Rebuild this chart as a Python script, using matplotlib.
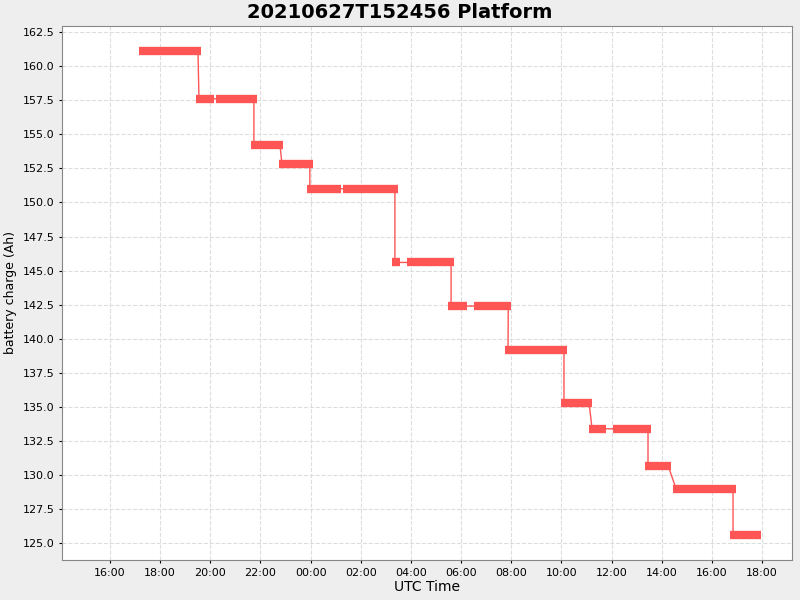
import matplotlib
matplotlib.use("Agg")
import matplotlib.pyplot as plt
import matplotlib.dates as mdates
import datetime as dt

# segments: start/end in hours after 2021-06-27 00:00 UTC, charge in Ah
seg_start = [17.16, 19.43, 20.23, 21.62, 22.74, 23.85, 25.29, 27.24, 27.84, 29.48, 30.51, 31.75, 33.98, 35.10, 36.06, 37.33, 38.45, 40.72]
seg_end = [19.63, 20.15, 21.86, 22.90, 24.09, 25.21, 27.48, 27.56, 29.72, 30.23, 32.00, 34.22, 35.22, 35.78, 37.57, 38.37, 40.96, 41.96]
seg_value = [161.1, 157.6, 157.6, 154.2, 152.8, 151.0, 151.0, 145.6, 145.6, 142.4, 142.4, 139.2, 135.3, 133.4, 133.4, 130.7, 129.0, 125.6]

base = dt.datetime(2021, 6, 27)
def t(h):
    return mdates.date2num(base + dt.timedelta(hours=h))

red = "#ff5555"
fig = plt.figure(figsize=(8, 6), dpi=100, facecolor="#eeeeee")
ax = fig.add_axes([0.0775, 0.0667, 0.9125, 0.89])
ax.set_facecolor("white")

# thin connecting line through marker centres
inset = 0.12
xs, ys = [], []
for s, e, v in zip(seg_start, seg_end, seg_value):
    xs += [t(s + inset), t(e - inset)]
    ys += [v, v]
ax.plot(xs, ys, color=red, lw=1, zorder=2)
for s, e, v in zip(seg_start, seg_end, seg_value):
    ax.plot([t(s), t(e)], [v, v], color=red, lw=6, solid_capstyle="butt", zorder=3)

ax.set_xlim(t(14.09), t(43.19))
ax.set_ylim(123.78, 162.94)
ax.xaxis.set_major_locator(mdates.HourLocator(byhour=range(0, 24, 2)))
ax.xaxis.set_major_formatter(mdates.DateFormatter("%H:%M"))
ax.set_yticks([125 + 2.5 * i for i in range(16)])
ax.yaxis.set_major_formatter(matplotlib.ticker.FormatStrFormatter("%.1f"))
ax.tick_params(labelsize=8, length=2)
ax.grid(True, color="#dddddd", linestyle="--", linewidth=0.8)
ax.set_axisbelow(True)
for sp in ax.spines.values():
    sp.set_color("#888888")
    sp.set_linewidth(0.8)
ax.set_xlabel("UTC Time", fontsize=10, labelpad=2)
ax.set_ylabel("battery charge (Ah)", fontsize=9, labelpad=4)
fig.suptitle("20210627T152456 Platform", fontsize=14, fontweight="bold", y=0.995)

fig.savefig("out.png", dpi=100, facecolor=fig.get_facecolor())
